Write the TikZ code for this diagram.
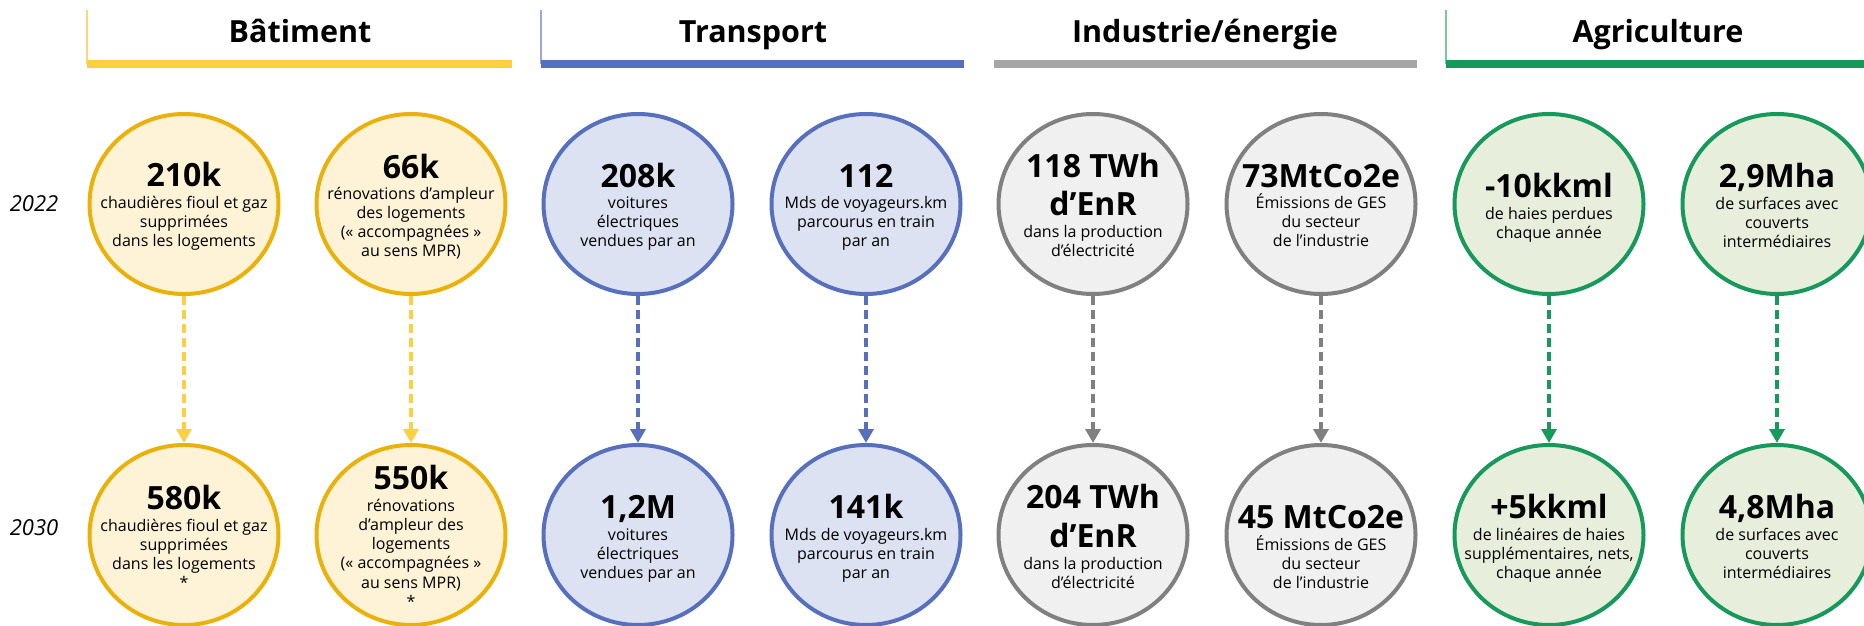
\documentclass[tikz,border=0pt]{standalone}
\usepackage{fontspec}
\setmainfont{Open Sans}
\usetikzlibrary{shapes.geometric,arrows.meta}
\definecolor{yelbar}{HTML}{FDCF41}
\definecolor{yelring}{HTML}{E9B10A}
\definecolor{yelfill}{HTML}{FEF3D6}
\definecolor{yelthin}{HTML}{FBD77C}
\definecolor{bluec}{HTML}{5770BE}
\definecolor{bluefill}{HTML}{DDE2F2}
\definecolor{bluethin}{HTML}{9AA9D9}
\definecolor{graybar}{HTML}{A6A6A6}
\definecolor{grayring}{HTML}{808080}
\definecolor{grayfill}{HTML}{F0F0F0}
\definecolor{greenc}{HTML}{18995C}
\definecolor{greenfill}{HTML}{E7EEDC}
\definecolor{greenthin}{HTML}{7CC59E}
\newcommand{\kpifont}{\fontsize{32}{38}\selectfont\bfseries}
\newcommand{\kpifontb}{\fontsize{32}{39}\selectfont\bfseries}
\newcommand{\descfont}{\fontsize{16}{19.3}\selectfont}
\newcommand{\headfont}{\fontsize{30.5}{36}\selectfont\bfseries}
\newcommand{\yearfont}{\fontsize{22}{26}\selectfont\itshape}
\newcommand{\lines}[1]{\begin{tabular}[t]{@{}c@{}}#1\end{tabular}}
\tikzset{
  ring/.style={ellipse, draw=#1, line width=4pt, minimum width=189pt, minimum height=180pt, inner sep=0pt},
  kpi/.style={font=\kpifont, anchor=base, inner sep=0pt},
  desc/.style={font=\descfont, anchor=base, inner sep=0pt},
  flow/.style={draw=#1, line width=3.5pt, dash pattern=on 9pt off 5pt, -{Triangle[width=15pt,length=14pt]}},
  head/.style={font=\headfont, anchor=base, inner sep=0pt},
  year/.style={font=\yearfont, anchor=base, inner sep=0pt},
  thin/.style={line width=1.2pt}
}
\begin{document}
\begin{tikzpicture}[x=1pt,y=-1pt]
\useasboundingbox[fill=white] (0,0) rectangle (1864,626);
% headers
\draw[thin, yelthin] (87,10) -- (87,64);
\fill[yelbar] (87,60) rectangle (512,68);
\node[head] (hb) at (300,43) {Bâtiment};
\draw[thin, bluethin] (541,10) -- (541,64);
\fill[bluec] (541,60) rectangle (964,68);
\node[head] (ht) at (753,43) {Transport};
\fill[graybar] (994,60) rectangle (1417,68);
\node[head] (hi) at (1205,43) {Industrie/énergie};
\draw[thin, greenthin] (1446,10) -- (1446,64);
\fill[greenc] (1446,60) rectangle (1864,68);
\node[head] (ha) at (1658,43) {Agriculture};
% years
\node[year] (y1) at (34,211) {2022};
\node[year] (y2) at (34,535) {2030};
% rings row 1
\node[ring=yelring, fill=yelfill] (b1) at (184,204) {};
\node[ring=yelring, fill=yelfill] (b2) at (411,204) {};
\node[ring=bluec, fill=bluefill] (t1) at (638,204) {};
\node[ring=bluec, fill=bluefill] (t2) at (866,204) {};
\node[ring=grayring, fill=grayfill] (i1) at (1093,204) {};
\node[ring=grayring, fill=grayfill] (i2) at (1321,204) {};
\node[ring=greenc, fill=greenfill] (a1) at (1549,204) {};
\node[ring=greenc, fill=greenfill] (a2) at (1777,204) {};
% rings row 2
\node[ring=yelring, fill=yelfill] (b1n) at (184,535) {};
\node[ring=yelring, fill=yelfill] (b2n) at (411,535) {};
\node[ring=bluec, fill=bluefill] (t1n) at (638,535) {};
\node[ring=bluec, fill=bluefill] (t2n) at (866,535) {};
\node[ring=grayring, fill=grayfill] (i1n) at (1093,535) {};
\node[ring=grayring, fill=grayfill] (i2n) at (1321,535) {};
\node[ring=greenc, fill=greenfill] (a1n) at (1549,535) {};
\node[ring=greenc, fill=greenfill] (a2n) at (1777,535) {};
% arrows
\draw[flow=yelbar] (b1) -- (b1n);
\draw[flow=yelbar] (b2) -- (b2n);
\draw[flow=bluec] (t1) -- (t1n);
\draw[flow=bluec] (t2) -- (t2n);
\draw[flow=grayring] (i1) -- (i1n);
\draw[flow=grayring] (i2) -- (i2n);
\draw[flow=greenc] (a1) -- (a1n);
\draw[flow=greenc] (a2) -- (a2n);
% texts row 1
\node[kpi] (b1k) at (184,186) {210k};
\node[desc] (b1d) at (184,208) {\lines{chaudières fioul et gaz\\supprimées\\dans les logements}};
\node[kpi] (b2k) at (411,178) {66k};
\node[desc] (b2d) at (411,199) {\lines{rénovations d’ampleur\\des logements\\(« accompagnées »\\au sens MPR)}};
\node[kpi] (t1k) at (638,187) {208k};
\node[desc] (t1d) at (638,208) {\lines{voitures\\électriques\\vendues par an}};
\node[kpi] (t2k) at (866,187) {112};
\node[desc] (t2d) at (866,208) {\lines{Mds de voyageurs.km\\parcourus en train\\par an}};
\node[kpi] (i1k) at (1093,177) {\lines{118 TWh\\d’EnR}};
\node[desc] (i1d) at (1093,237) {\lines{dans la production\\d’électricité}};
\node[kpi] (i2k) at (1321,187) {73MtCo2e};
\node[desc] (i2d) at (1321,208) {\lines{Émissions de GES\\du secteur\\de l’industrie}};
\node[kpi] (a1k) at (1549,197) {-10kkml};
\node[desc] (a1d) at (1549,219) {\lines{de haies perdues\\chaque année}};
\node[kpi] (a2k) at (1777,187) {2,9Mha};
\node[desc] (a2d) at (1777,209) {\lines{de surfaces avec\\couverts\\intermédiaires}};
% texts row 2
\node[kpi] (b1nk) at (184,509) {580k};
\node[desc] (b1nd) at (184,531) {\lines{chaudières fioul et gaz\\supprimées\\dans les logements\\{}*}};
\node[kpi] (b2nk) at (411,489) {550k};
\node[desc] (b2nd) at (411,511) {\lines{rénovations\\d’ampleur des\\logements\\(« accompagnées »\\au sens MPR)\\{}*}};
\node[kpi] (t1nk) at (638,518) {1,2M};
\node[desc] (t1nd) at (638,540) {\lines{voitures\\électriques\\vendues par an}};
\node[kpi] (t2nk) at (866,518) {141k};
\node[desc] (t2nd) at (866,540) {\lines{Mds de voyageurs.km\\parcourus en train\\par an}};
\node[kpi, font=\kpifontb] (i1nk) at (1093,508) {\lines{204 TWh\\d’EnR}};
\node[desc] (i1nd) at (1093,569) {\lines{dans la production\\d’électricité}};
\node[kpi] (i2nk) at (1321,528) {45 MtCo2e};
\node[desc] (i2nd) at (1321,550) {\lines{Émissions de GES\\du secteur\\de l’industrie}};
\node[kpi] (a1nk) at (1549,518) {+5kkml};
\node[desc] (a1nd) at (1549,540) {\lines{de linéaires de haies\\supplémentaires, nets,\\chaque année}};
\node[kpi] (a2nk) at (1777,518) {4,8Mha};
\node[desc] (a2nd) at (1777,540) {\lines{de surfaces avec\\couverts\\intermédiaires}};
\end{tikzpicture}
\end{document}
